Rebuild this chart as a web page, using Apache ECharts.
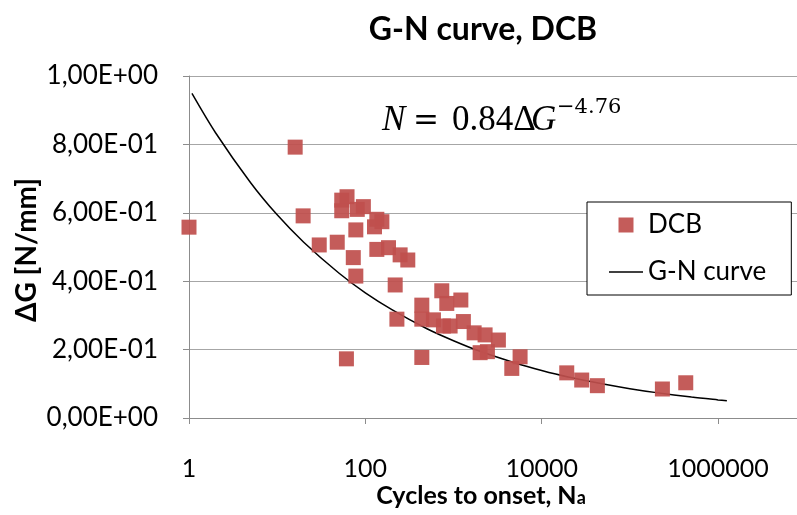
<!DOCTYPE html>
<html><head><meta charset="utf-8">
<script src="https://cdn.jsdelivr.net/npm/echarts@6/dist/echarts.min.js"></script>
<style>html,body{margin:0;padding:0;background:#fff}#c{width:797px;height:515px}</style>
</head><body><div id="c"></div>
<script>
// DCB test data: cycles to onset (Na) and delta G [N/mm]
const cycles = [1, 16, 19.7, 30, 48, 61, 54, 62, 54, 81, 95, 135, 154, 127, 78, 73, 78, 135, 183, 248, 303, 218, 228, 437, 437, 437, 736, 839, 1211, 592, 769, 915, 1294, 1713, 2281, 3228, 2004, 2424, 4581, 5690, 19240, 28450, 42820, 233900, 430500];
const deltaG = [0.558, 0.792, 0.591, 0.506, 0.514, 0.173, 0.637, 0.647, 0.606, 0.610, 0.618, 0.581, 0.574, 0.559, 0.550, 0.469, 0.415, 0.493, 0.498, 0.477, 0.462, 0.389, 0.289, 0.330, 0.289, 0.177, 0.372, 0.335, 0.345, 0.287, 0.269, 0.269, 0.282, 0.249, 0.243, 0.228, 0.191, 0.194, 0.145, 0.179, 0.132, 0.111, 0.0945, 0.0848, 0.103];
// G-N curve
const curveCycles = [1.08, 2, 5, 10, 20, 50, 100, 200, 500, 1000, 2000, 5000, 10000, 20000, 50000, 100000, 200000, 500000, 1000000, 1260000];
const curveDeltaG = [0.949, 0.834, 0.688, 0.594, 0.514, 0.424, 0.366, 0.317, 0.261, 0.226, 0.195, 0.161, 0.139, 0.120, 0.0993, 0.0858, 0.0742, 0.0612, 0.0529, 0.0504];
const yTickValues = [0, 0.2, 0.4, 0.6, 0.8, 1.0];
const yTickLabels = ['0,00E+00', '2,00E-01', '4,00E-01', '6,00E-01', '8,00E-01', '1,00E+00'];
const xTickExponents = [0, 2, 4, 6];
const xTickLabels = ['1', '100', '10000', '1000000'];
// the visible part of the x axis ends short of 1E+08 (the chart is cut at the right)
const xAxisMax = 7865000;

const scatterData = cycles.map((c, i) => [c, deltaG[i]]);
const curveData = curveCycles.map((c, i) => [c, curveDeltaG[i]]);
const FONT = 'Lato';

const chart = echarts.init(document.getElementById('c'), null, {renderer: 'canvas'});
chart.setOption({
  backgroundColor: '#ffffff',
  animation: false,
  title: {
    text: 'G-N curve, DCB',
    left: 478, top: 9, textAlign: 'center',
    textStyle: {fontFamily: FONT, fontWeight: 'bold', fontSize: 32, color: '#000'}
  },
  grid: {left: 189, right: 0, top: 76, height: 342, containLabel: false},
  xAxis: {
    type: 'log', logBase: 10, min: 1, max: xAxisMax, interval: 2,
    axisLine: {show: true, lineStyle: {color: '#8c8c8c', width: 1}},
    axisTick: {show: true, inside: false, length: 6, lineStyle: {color: '#8c8c8c'}},
    minorTick: {show: false},
    splitLine: {show: false},
    axisLabel: {
      margin: 38, fontFamily: FONT, fontSize: 25, color: '#000', showMaxLabel: false,
      formatter: v => {
        const l = Math.log10(v);
        const e = Math.round(l);
        if (Math.abs(l - e) > 1e-6) return '';
        const i = xTickExponents.indexOf(e);
        return i >= 0 ? xTickLabels[i] : '';
      }
    }
  },
  yAxis: {
    type: 'value', min: 0, max: 1, interval: 0.2,
    axisLine: {show: true, lineStyle: {color: '#8c8c8c', width: 1}},
    axisTick: {show: true, inside: false, length: 6, lineStyle: {color: '#8c8c8c'}},
    splitLine: {show: true, lineStyle: {color: '#a6a6a6', width: 1.2}},
    axisLabel: {
      margin: 31, fontFamily: FONT, fontSize: 26, color: '#000',
      formatter: v => {
        const i = yTickValues.findIndex(t => Math.abs(t - v) < 1e-6);
        return i >= 0 ? yTickLabels[i] : '';
      }
    }
  },
  legend: {
    orient: 'vertical', left: 587, top: 202,
    padding: [10, 25, 10, 22], itemGap: 21,
    itemWidth: 34, itemHeight: 15,
    backgroundColor: '#fff', borderColor: '#000', borderWidth: 1,
    textStyle: {fontFamily: FONT, fontSize: 26, color: '#000', lineHeight: 26},
    data: [
      {name: 'DCB', icon: 'path://M0,0L10,0L10,10L0,10Z'},
      {name: 'G-N curve', icon: 'path://M0,0L34,0L34,1.5L0,1.5Z', itemStyle: {color: '#000'}}
    ]
  },
  series: [
    {
      name: 'G-N curve', type: 'line', data: curveData,
      symbol: 'none', showSymbol: false, smooth: 0.3,
      lineStyle: {color: '#000', width: 1.5}, itemStyle: {color: '#000'}, z: 2
    },
    {
      name: 'DCB', type: 'scatter', data: scatterData,
      symbol: 'rect', symbolSize: 15,
      itemStyle: {color: '#C0504D', opacity: 0.93}, z: 3
    }
  ],
  graphic: [
    {
      type: 'text', left: 382, top: 103,
      style: {text: 'N', fontFamily: 'Liberation Serif', fontStyle: 'italic', fontSize: 35, fill: '#000'}
    },
    {
      type: 'text', left: 413, top: 106,
      style: {text: '=', fontFamily: 'DejaVu Serif', fontSize: 31, fill: '#000'}
    },
    {
      type: 'text', left: 452, top: 103,
      style: {text: '0.84Δ', fontFamily: 'Liberation Serif', fontSize: 35, fill: '#000'}
    },
    {
      type: 'text', left: 531, top: 103,
      style: {text: 'G', fontFamily: 'Liberation Serif', fontStyle: 'italic', fontSize: 35, fill: '#000'}
    },
    {
      type: 'text', left: 557, top: 97,
      style: {text: '−4.76', fontFamily: 'DejaVu Serif', fontSize: 21, fill: '#000'}
    },
    {
      type: 'text', x: 481, y: 496,
      style: {
        text: 'Cycles to onset, N{s|a}', align: 'center', verticalAlign: 'middle',
        fontFamily: FONT, fontWeight: 'bold', fontSize: 25, fill: '#000',
        rich: {s: {fontFamily: FONT, fontWeight: 'bold', fontSize: 18, fill: '#000', padding: [5, 0, 0, 0]}}
      }
    },
    {
      type: 'text', x: 27, y: 250, rotation: Math.PI / 2,
      style: {
        text: 'ΔG [N/mm]', align: 'center', verticalAlign: 'middle',
        fontFamily: FONT, fontWeight: 'bold', fontSize: 28, fill: '#000'
      }
    }
  ]
});
</script>
</body></html>
